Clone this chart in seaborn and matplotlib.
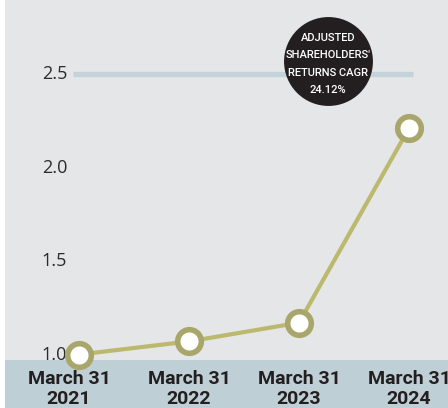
import matplotlib
matplotlib.use("Agg")
import matplotlib.pyplot as plt
import matplotlib.transforms as mtransforms
from matplotlib.patches import Rectangle
import numpy as np
import pandas as pd
import seaborn as sns

# Data
periods = ["March 31\n2021", "March 31\n2022", "March 31\n2023", "March 31\n2024"]
returns_index = [1.00, 1.07, 1.17, 2.21]
y_ticks = [1.0, 1.5, 2.0, 2.5]
y_tick_labels = ["1.0", "1.5", "2.0", "2.5"]
badge_lines = ["ADJUSTED", "SHAREHOLDERS'", "RETURNS CAGR", "24.12%"]

# Colours
BG = "#e5e6e8"
BAND = "#bfcfd6"
GRID = "#c4d2d9"
LINE = "#bcb96f"
MARKER_EDGE = "#a9a66b"
INK = "#231f20"

sns.set_theme(style="white")
plt.rcParams["font.family"] = ["Open Sans", "DejaVu Sans"]

fig = plt.figure(figsize=(4.48, 4.08), dpi=100, facecolor="white")
ax = fig.add_axes([5 / 448, 0, 443 / 448, 1])
ax.set_facecolor(BG)
for s in ax.spines.values():
    s.set_visible(False)
ax.set_xticks([])
ax.set_yticks([])

df = pd.DataFrame({"pos": np.arange(len(periods)), "value": returns_index})

ax.set_xlim(-0.673, 3.355)
ax.set_ylim(0.714, 2.896)

# Bottom band holding the period labels
ax.add_patch(Rectangle((0, 0), 1, 48 / 408, transform=ax.transAxes,
                       facecolor=BAND, edgecolor="none", zorder=0.5))

# Single reference line at the top tick
ax.axhline(y_ticks[-1], xmin=0.1535, xmax=0.921, color=GRID, lw=3.8,
           solid_capstyle="butt", zorder=1)

# Y tick labels drawn inside the plot
ytrans = mtransforms.blended_transform_factory(ax.transAxes, ax.transData)
for v, lab in zip(y_ticks, y_tick_labels):
    ax.text(62 / 443, v, lab, transform=ytrans, ha="right", va="center",
            fontsize=13, color="#2b2b2b", zorder=2)

sns.lineplot(data=df, x="pos", y="value", ax=ax, color=LINE, lw=3,
             marker="o", markersize=17, markerfacecolor="white",
             markeredgecolor=MARKER_EDGE, markeredgewidth=4, zorder=3)
ax.set_xlabel("")
ax.set_ylabel("")

# Period labels in the band
xtrans = mtransforms.blended_transform_factory(ax.transData, ax.transAxes)
for i, lab in enumerate(periods):
    ax.text(i - (0.09 if i == 0 else 0), 19 / 408, lab, transform=xtrans,
            ha="center", va="center", fontsize=14, fontweight="bold",
            family=["Roboto", "DejaVu Sans"], color=INK, linespacing=1.08,
            zorder=4)

# CAGR badge
badge_x, badge_y = 2.264, 2.57
ax.plot([badge_x], [badge_y], marker="o", markersize=64, color=INK,
        markeredgewidth=0, zorder=5)
ax.text(badge_x, badge_y - 0.016, "\n".join(badge_lines), ha="center",
        va="center", color="white", zorder=6, fontweight="medium",
        family=["Roboto", "DejaVu Sans"], fontsize=8.0, linespacing=1.9)

fig.savefig("out.png", dpi=100, facecolor="white")
